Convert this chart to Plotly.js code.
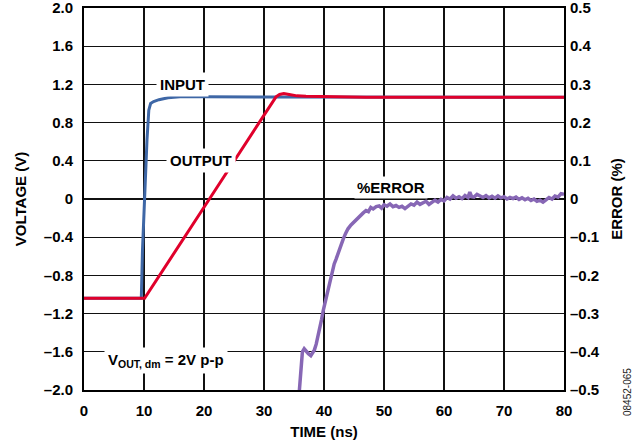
<!DOCTYPE html>
<html>
<head>
<meta charset="utf-8">
<script src="https://cdn.plot.ly/plotly-3.0.1.min.js"></script>
<style>html,body{margin:0;padding:0;background:#fff;}#chart{width:644px;height:446px;}</style>
</head>
<body>
<div id="chart"></div>
<script>
// ---- data ----
const inputTime = [0, 9.55, 9.75, 10.1, 10.5, 10.8, 11.1, 11.6, 12.5, 14.0, 16.0, 20.0, 30.0, 40.0, 60.0, 80.0];
const inputVolt = [-1.04, -1.04, -0.53, 0.1, 0.62, 0.93, 1.0, 1.02, 1.04, 1.06, 1.07, 1.07, 1.07, 1.068, 1.065, 1.065];

const outputTime = [0, 10.1, 20.9, 32.0, 32.6, 33.3, 34.2, 35.5, 37.0, 40.0, 47.0, 60.0, 80.0];
const outputVolt = [-1.04, -1.04, 0.0, 1.07, 1.095, 1.105, 1.095, 1.08, 1.075, 1.072, 1.065, 1.065, 1.065];

const errorTime = [35.8, 36.1, 36.4, 36.7, 37.0, 37.4, 37.8, 38.1, 38.4, 38.7, 39.0, 39.3, 39.6, 39.9, 40.2, 40.5, 40.8, 41.1, 41.4, 41.7,
  42.0, 42.4, 42.8, 43.2, 43.6, 44.0, 44.5, 45.0, 45.5, 46.0, 46.5, 47.0, 47.4, 47.8, 48.2, 48.7, 49.2, 49.6, 50.0, 50.5,
  51.0, 51.5, 52.0, 52.5, 53.0, 53.5, 54.0, 54.5, 55.0, 55.5, 56.0, 56.5, 57.0, 57.5, 58.0, 58.5, 59.0, 59.5, 60.0, 60.5,
  61.0, 61.5, 62.0, 62.5, 63.0, 63.5, 64.0, 64.3, 64.6, 65.0, 65.5, 66.0, 66.5, 67.0, 67.5, 68.0, 68.5, 69.0, 69.5, 70.0,
  70.5, 71.0, 71.5, 72.0, 72.5, 73.0, 73.5, 74.0, 74.5, 75.0, 75.5, 76.0, 76.5, 77.0, 77.5, 78.0, 78.5, 79.0, 79.5, 80.0];
const errorPct = [-0.52, -0.45, -0.40, -0.392, -0.398, -0.405, -0.41, -0.403, -0.395, -0.38, -0.36, -0.34, -0.315, -0.29, -0.27, -0.25, -0.228, -0.212, -0.19, -0.17,
  -0.158, -0.14, -0.118, -0.105, -0.09, -0.078, -0.068, -0.06, -0.05, -0.042, -0.037, -0.03, -0.033, -0.022, -0.026, -0.02, -0.018, -0.024, -0.015, -0.019,
  -0.013, -0.02, -0.017, -0.022, -0.019, -0.025, -0.02, -0.013, -0.016, -0.008, -0.014, -0.01, -0.006, -0.014, -0.009, -0.003, -0.008, -0.001, -0.005, 0.004,
  0.0, 0.008, 0.002, 0.006, 0.001, 0.009, 0.004, 0.018, 0.006, 0.005, 0.012, 0.008, 0.004, 0.009, 0.003, 0.007, 0.002, 0.008, 0.003, 0.006,
  0.0, 0.004, 0.001, 0.005, -0.001, 0.003, -0.002, 0.002, -0.004, 0.0, -0.006, -0.003, -0.008, -0.002, 0.004, 0.0, 0.008, 0.005, 0.014, 0.012];

const xTicks = [0, 10, 20, 30, 40, 50, 60, 70, 80];
const yTicks = [-2.0, -1.6, -1.2, -0.8, -0.4, 0, 0.4, 0.8, 1.2, 1.6, 2.0];
const yTickText = ['\u20132.0', '\u20131.6', '\u20131.2', '\u20130.8', '\u20130.4', '0', '0.4', '0.8', '1.2', '1.6', '2.0'];
const y2Ticks = [-0.5, -0.4, -0.3, -0.2, -0.1, 0, 0.1, 0.2, 0.3, 0.4, 0.5];
const y2TickText = ['\u20130.5', '\u20130.4', '\u20130.3', '\u20130.2', '\u20130.1', '0', '0.1', '0.2', '0.3', '0.4', '0.5'];

const FONT = 'Liberation Sans, Arial, sans-serif';
const bold = (size) => ({family: FONT, size: size, color: '#000', weight: 'bold'});

const traces = [
  {x: errorTime, y: errorPct, yaxis: 'y2', mode: 'lines', line: {color: '#8767b5', width: 3.5}, hoverinfo: 'skip'},
  {x: inputTime, y: inputVolt, mode: 'lines', line: {color: '#3e67a6', width: 3}, hoverinfo: 'skip'},
  {x: outputTime, y: outputVolt, mode: 'lines', line: {color: '#e0002b', width: 3}, hoverinfo: 'skip'}
];

const layout = {
  width: 644, height: 446,
  margin: {l: 84, r: 80, t: 8, b: 56, pad: 0},
  paper_bgcolor: '#fff', plot_bgcolor: '#fff',
  showlegend: false,
  xaxis: {
    range: [0, 80], tickvals: xTicks, ticktext: xTicks.map(String),
    showgrid: true, gridcolor: '#111', gridwidth: 1.3, zeroline: false,
    showline: true, linecolor: '#000', linewidth: 2, mirror: true,
    ticks: '', ticklabelstandoff: 6, tickfont: bold(15),
    title: {text: 'TIME (ns)', font: bold(15), standoff: 8}
  },
  yaxis: {
    range: [-2, 2.0001], tickvals: yTicks, ticktext: yTickText,
    showgrid: true, gridcolor: '#111', gridwidth: 1.3, zeroline: false,
    showline: true, linecolor: '#000', linewidth: 2, mirror: true,
    ticks: '', ticklabelstandoff: 6, tickfont: bold(15), ticklabeloverflow: 'allow',
    title: {text: 'VOLTAGE (V)', font: bold(15), standoff: 14}
  },
  yaxis2: {
    range: [-0.5, 0.500025], tickvals: y2Ticks, ticktext: y2TickText,
    overlaying: 'y', side: 'right', showgrid: false, zeroline: false,
    showline: false, ticks: '', ticklabelstandoff: 5, tickfont: bold(15), ticklabeloverflow: 'allow',
    title: {text: 'ERROR (%)', font: bold(15), standoff: 12}
  },
  annotations: [
    {x: 16.4, y: 1.2, xref: 'x', yref: 'y', text: 'INPUT', showarrow: false, font: bold(15), bgcolor: '#fff', borderpad: 3, xanchor: 'center', yanchor: 'middle'},
    {x: 19.5, y: 0.4, xref: 'x', yref: 'y', text: 'OUTPUT', showarrow: false, font: bold(15), bgcolor: '#fff', borderpad: 3, xanchor: 'center', yanchor: 'middle'},
    {x: 51.2, y: 0.122, xref: 'x', yref: 'y', text: '%ERROR', showarrow: false, font: bold(15), bgcolor: '#fff', borderpad: 2, xanchor: 'center', yanchor: 'middle'},
    {x: 13.6, y: -1.69, xref: 'x', yref: 'y', text: 'V<sub>OUT, dm</sub> = 2V p-p', showarrow: false, font: bold(15), bgcolor: '#fff', borderpad: 3, xanchor: 'center', yanchor: 'middle'},
    {x: (627 - 84) / 480, y: (446 - 56 - 392) / 382, xref: 'paper', yref: 'paper', text: '08452-065', showarrow: false, textangle: -90,
     font: {family: FONT, size: 10, color: '#222'}, xanchor: 'center', yanchor: 'middle'}
  ]
};

Plotly.newPlot('chart', traces, layout, {staticPlot: true, displayModeBar: false});
</script>
</body>
</html>
